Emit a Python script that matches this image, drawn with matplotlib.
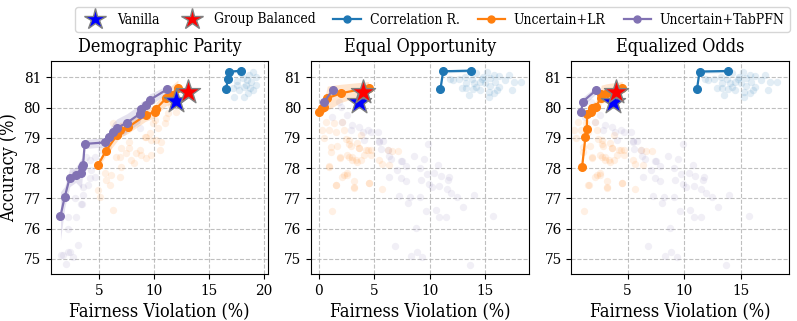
import matplotlib
matplotlib.use("Agg")
import matplotlib.pyplot as plt
from matplotlib.lines import Line2D

plt.rcParams["font.family"] = ["DejaVu Serif"]
plt.rcParams["font.stretch"] = "condensed"

C_BLUE = "#1f77b4"
C_ORANGE = "#ff7f0e"
C_PURPLE = "#8172b3"

titles = ["Demographic Parity", "Equal Opportunity", "Equalized Odds"]

# ---------------- Demographic Parity ----------------
dp_purple_x = [1.47, 1.86, 2.32, 2.86, 3.38, 3.47, 3.53, 3.68, 5.50, 5.89, 6.25, 6.62, 7.53, 8.68, 8.83, 9.29, 9.59, 11.17]
dp_purple_y = [76.42, 77.05, 77.69, 77.78, 77.83, 78.04, 78.12, 78.80, 78.85, 79.02, 79.20, 79.33, 79.50, 79.79, 79.94, 80.08, 80.25, 80.60]
dp_purple_sd = [0.8, 0.35, 0.3, 0.25, 0.5, 0.3, 0.2, 0.15, 0.15, 0.2, 0.3, 0.3, 0.3, 0.3, 0.25, 0.2, 0.2, 0.12]
dp_orange_x = [4.89, 5.59, 6.62, 6.86, 7.62, 9.23, 10.05, 10.20, 11.10, 11.56, 12.17]
dp_orange_y = [78.10, 78.56, 79.09, 79.26, 79.35, 79.75, 79.86, 79.97, 80.31, 80.42, 80.66]
dp_orange_sd = [0.1, 0.15, 0.2, 0.25, 0.2, 0.2, 0.2, 0.2, 0.25, 0.3, 0.25]
dp_blue_x = [16.56, 16.71, 16.80, 17.89]
dp_blue_y = [80.60, 80.94, 81.18, 81.22]
dp_blue_sd = [0.05, 0.05, 0.05, 0.05]
dp_vanilla = (11.98, 80.23)
dp_balanced = (13.1, 80.50)

dp_faint_orange_x = [4.9, 5.05, 5.5, 5.65, 5.95, 6.1, 6.25, 6.86, 7.0, 6.86, 7.0, 7.45, 7.75, 7.9, 8.2, 8.35, 8.7, 8.85,
                     9.15, 9.3, 9.6, 9.75, 9.9, 10.06, 10.36, 10.2, 10.5, 10.66, 10.97, 11.27, 11.57, 12.0, 11.1, 9.3,
                     9.75, 7.75, 6.55, 6.3, 5.8]
dp_faint_orange_y = [77.27, 77.05, 77.83, 77.6, 77.44, 77.77, 76.61, 77.72, 78.05, 78.38, 78.65, 78.49, 78.65, 78.27,
                     78.16, 78.49, 78.6, 78.44, 79.04, 79.04, 79.15, 78.93, 79.48, 79.6, 79.33, 78.93, 78.6, 78.87,
                     79.48, 79.82, 80.04, 79.87, 79.65, 78.33, 78.44, 78.87, 78.38, 79.48, 78.71]
dp_faint_purple_x = [1.7, 2.16, 2.62, 2.02, 3.07, 2.16, 2.16, 2.93, 2.77, 3.47, 3.53, 4.14, 4.29, 3.84, 4.59, 3.98,
                     2.77, 3.53, 3.38, 1.56, 2.32, 4.14, 4.59, 8.68, 7.2, 6.4, 5.2]
dp_faint_purple_y = [75.13, 75.24, 75.07, 74.82, 75.46, 76.0, 76.4, 76.39, 77.0, 76.83, 77.11, 77.66, 77.93, 78.38,
                     77.71, 77.44, 77.83, 77.38, 76.83, 75.13, 75.24, 78.27, 78.38, 79.31, 79.2, 79.1, 78.6]
dp_faint_blue_x = [17.16, 17.53, 17.77, 18.07, 18.38, 18.68, 18.83, 18.98, 19.29, 19.29, 18.53, 17.3, 18.2, 17.93,
                   18.5, 17.6, 19.05, 18.7, 18.2]
dp_faint_blue_y = [80.64, 80.89, 80.58, 80.97, 80.75, 81.08, 80.86, 80.58, 81.02, 80.75, 80.47, 80.36, 80.36, 81.13,
                   80.91, 80.75, 81.19, 80.64, 80.69]

# ---------------- Equal Opportunity ----------------
eo_purple_x = [0.5, 1.25]
eo_purple_y = [80.20, 80.58]
eo_purple_sd = [0.12, 0.12]
eo_orange_x = [0.0, 0.3, 0.45, 0.76, 1.97, 4.48]
eo_orange_y = [79.87, 79.98, 80.03, 80.31, 80.47, 80.66]
eo_orange_sd = [0.08, 0.1, 0.15, 0.4, 0.3, 0.2]
eo_blue_x = [10.95, 11.20, 13.70]
eo_blue_y = [80.60, 81.20, 81.22]
eo_blue_sd = [0.08, 0.05, 0.05]
eo_vanilla = (3.64, 80.20)
eo_balanced = (3.95, 80.50)

# ---------------- Equalized Odds ----------------
eod_purple_x = [0.91, 1.06, 2.24]
eod_purple_y = [79.87, 80.20, 80.58]
eod_purple_sd = [0.1, 0.15, 0.12]
eod_orange_x = [1.0, 1.29, 1.41, 1.44, 1.79, 1.88, 2.24, 2.62, 2.68, 3.18, 4.53]
eod_orange_y = [78.05, 79.04, 79.29, 79.79, 79.87, 80.0, 80.03, 80.31, 80.44, 80.49, 80.66]
eod_orange_sd = [0.05, 0.05, 0.05, 0.1, 0.1, 0.15, 0.2, 0.3, 0.3, 0.3, 0.2]
eod_blue_x = [11.12, 11.35, 13.90]
eod_blue_y = [80.60, 81.19, 81.21]
eod_blue_sd = [0.08, 0.05, 0.05]
eod_vanilla = (3.68, 80.20)
eod_balanced = (4.0, 80.50)

# faint points for EO / EOdds (look nearly the same in both panels)
eo_faint_orange_x = [1.06, 1.67, 1.88, 2.58, 2.73, 3.03, 3.48, 3.79, 4.09, 4.24, 4.7, 3.64, 0.91, 2.27, 2.58, 1.58,
                     3.18, 3.18, 4.55, 5.7, 1.15, 5.45, 5.7, 6.36, 6.6, 7.12, 6.2, 0.61, 0.91, 0.3, 0.45, 1.36, 1.52,
                     2.12, 2.27, 2.73, 2.73, 0.91, 1.88, 2.88, 3.64, 3.79, 4.39, 2.12, 2.58, 3.18, 4.55, 1.52, 2.42,
                     1.06, 3.03, 3.33, 4.7, 3.48]
eo_faint_orange_y = [78.52, 78.72, 78.36, 78.42, 78.81, 78.26, 78.19, 78.28, 78.44, 78.61, 78.59, 78.67, 78.06,
                     77.78, 77.83, 77.44, 77.59, 77.36, 77.52, 77.3, 76.59, 78.28, 78.13, 78.09, 78.58, 78.58, 78.61,
                     79.54, 79.26, 79.26, 78.99, 79.48, 79.21, 79.54, 79.26, 78.93, 78.38, 78.05, 78.33, 78.73,
                     78.66, 79.1, 78.6, 77.72, 77.78, 77.39, 77.5, 77.45, 78.95, 78.71, 78.38, 78.27, 78.44, 78.82]
eo_faint_purple_x = [4.09, 5.45, 5.82, 6.3, 5.6, 7.52, 7.82, 8.55, 9.09, 9.45, 9.85, 10.76, 9.7, 10.39, 10.97, 11.76,
                     11.67, 10.85, 10.15, 9.91, 9.18, 7.88, 7.42, 6.36, 7.03, 11.52, 11.88, 12.42, 13.94, 7.21, 8.18,
                     9.09, 8.03, 9.64, 10.55, 10.85, 11.45, 12.97, 15.7, 8.73, 6.82, 8.33, 8.85, 9.33, 13.64, 7.42,
                     1.82, 1.97, 2.58, 2.88, 3.03, 3.64, 3.94, 4.39, 4.7, 5.3, 5.45, 6.2, 6.5, 1.21, 2.12]
eo_faint_purple_y = [78.94, 78.89, 78.89, 78.41, 78.63, 78.22, 78.06, 78.39, 78.0, 78.3, 78.81, 78.11, 77.8, 77.83,
                     77.74, 77.72, 77.61, 77.41, 77.39, 77.47, 77.61, 77.56, 77.67, 77.7, 77.94, 77.3, 77.19, 77.06,
                     77.11, 77.09, 77.06, 77.06, 76.86, 76.58, 76.63, 76.39, 76.38, 76.72, 76.41, 76.02, 75.44,
                     75.11, 75.24, 75.06, 74.81, 78.22, 80.2, 80.03, 79.76, 79.26, 79.43, 79.37, 79.21, 79.26, 79.21,
                     79.21, 78.88, 78.6, 78.29, 79.7, 79.54]
eo_faint_blue_x = [12.1, 12.6, 13.2, 13.3, 13.8, 14.2, 14.5, 14.8, 15.0, 15.15, 15.45, 15.76, 15.9, 16.2, 15.3, 14.5,
                   13.9, 13.3, 12.9, 15.3, 16.06, 17.1, 17.6, 18.2, 17.4, 13.5, 15.76, 16.2, 14.2, 14.7, 15.45, 11.8,
                   16.8, 14.0]
eo_faint_blue_y = [80.91, 80.93, 81.0, 80.8, 80.93, 81.13, 80.86, 81.02, 80.8, 81.19, 80.97, 81.08, 80.86, 81.04,
                   80.53, 80.58, 80.6, 80.64, 80.64, 80.36, 80.58, 81.08, 80.86, 80.86, 80.58, 80.42, 80.47, 80.69,
                   80.69, 80.93, 80.71, 80.95, 80.9, 80.8]

panels = [
    dict(purple=(dp_purple_x, dp_purple_y, dp_purple_sd), orange=(dp_orange_x, dp_orange_y, dp_orange_sd),
         blue=(dp_blue_x, dp_blue_y, dp_blue_sd), vanilla=dp_vanilla, balanced=dp_balanced,
         fo=(dp_faint_orange_x, dp_faint_orange_y), fp=(dp_faint_purple_x, dp_faint_purple_y),
         fb=(dp_faint_blue_x, dp_faint_blue_y), xlim=(0.58, 20.4), xticks=[5, 10, 15, 20]),
    dict(purple=(eo_purple_x, eo_purple_y, eo_purple_sd), orange=(eo_orange_x, eo_orange_y, eo_orange_sd),
         blue=(eo_blue_x, eo_blue_y, eo_blue_sd), vanilla=eo_vanilla, balanced=eo_balanced,
         fo=(eo_faint_orange_x, eo_faint_orange_y), fp=(eo_faint_purple_x, eo_faint_purple_y),
         fb=(eo_faint_blue_x, eo_faint_blue_y), xlim=(-0.7, 18.9), xticks=[0, 5, 10, 15]),
    dict(purple=(eod_purple_x, eod_purple_y, eod_purple_sd), orange=(eod_orange_x, eod_orange_y, eod_orange_sd),
         blue=(eod_blue_x, eod_blue_y, eod_blue_sd), vanilla=eod_vanilla, balanced=eod_balanced,
         fo=(eo_faint_orange_x, eo_faint_orange_y), fp=(eo_faint_purple_x, eo_faint_purple_y),
         fb=(eo_faint_blue_x, eo_faint_blue_y), xlim=(0.06, 19.24), xticks=[5, 10, 15]),
]

fig, axes = plt.subplots(1, 3, figsize=(7.97, 3.21), dpi=100)
fig.subplots_adjust(left=0.0636, right=0.990, bottom=0.146, top=0.811, wspace=0.197)

for ax, p, title in zip(axes, panels, titles):
    ax.grid(True, linestyle="--", color="#b0b0b0", linewidth=0.8, alpha=0.8)
    ax.set_axisbelow(True)
    # faint individual runs
    ax.scatter(*p["fb"], color=C_BLUE, s=28, alpha=0.13, linewidths=0)
    ax.scatter(*p["fo"], color=C_ORANGE, s=28, alpha=0.11, linewidths=0)
    ax.scatter(*p["fp"], color=C_PURPLE, s=28, alpha=0.11, linewidths=0)
    # pareto fronts with bands
    for key, col in [("blue", C_BLUE), ("orange", C_ORANGE), ("purple", C_PURPLE)]:
        xs, ys, sd = p[key]
        lo = [y - s for y, s in zip(ys, sd)]
        hi = [y + s for y, s in zip(ys, sd)]
        ax.fill_between(xs, lo, hi, color=col, alpha=0.2, linewidth=0)
        ax.plot(xs, ys, color=col, marker="o", markersize=5.5, linewidth=1.6, zorder=4)
    ax.scatter(*p["vanilla"], marker="*", s=330, color="blue", edgecolors="gray", linewidths=1.0, zorder=6)
    ax.scatter(*p["balanced"], marker="*", s=330, color="red", edgecolors="gray", linewidths=1.0, zorder=6)
    ax.set_xlim(*p["xlim"])
    ax.set_xticks(p["xticks"])
    ax.set_ylim(74.5, 81.55)
    ax.set_yticks([75, 76, 77, 78, 79, 80, 81])
    ax.set_title(title, fontsize=13)
    ax.set_xlabel("Fairness Violation (%)", fontsize=13)
    ax.tick_params(labelsize=11)

axes[0].set_ylabel("Accuracy (%)", fontsize=13)

handles = [
    Line2D([], [], marker="*", linestyle="None", markerfacecolor="blue", markeredgecolor="gray", markersize=16),
    Line2D([], [], marker="*", linestyle="None", markerfacecolor="red", markeredgecolor="gray", markersize=16),
    Line2D([], [], color=C_BLUE, marker="o", markersize=5, linewidth=1.6),
    Line2D([], [], color=C_ORANGE, marker="o", markersize=5, linewidth=1.6),
    Line2D([], [], color=C_PURPLE, marker="o", markersize=5, linewidth=1.6),
]
labels = ["Vanilla", "Group Balanced", "Correlation R.", "Uncertain+LR", "Uncertain+TabPFN"]
fig.legend(handles, labels, loc="upper center", bbox_to_anchor=(0.543, 1.0), ncol=5, fontsize=10,
           handletextpad=0.6, columnspacing=1.3, borderpad=0.4)

fig.savefig("out.png", dpi=100)
